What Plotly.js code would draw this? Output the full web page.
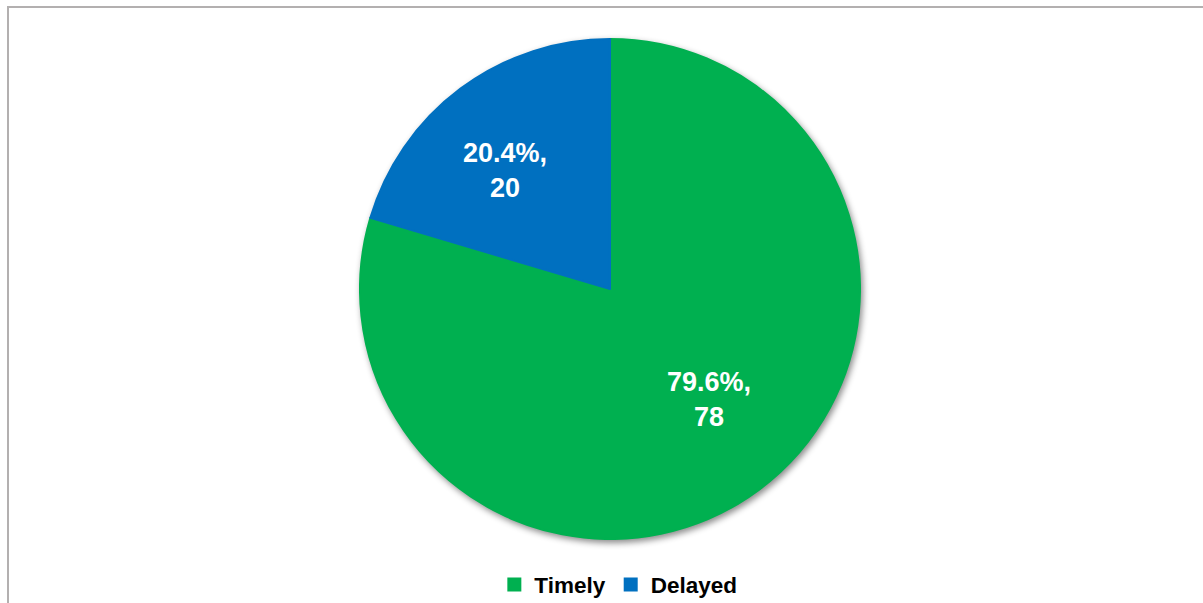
<!DOCTYPE html>
<html>
<head>
<meta charset="utf-8">
<script src="https://cdn.plot.ly/plotly-3.0.1.min.js"></script>
<style>
html,body{margin:0;padding:0;background:#fff;}
#wrap{position:relative;width:1203px;height:603px;overflow:hidden;}
#frame{position:absolute;left:7px;top:6px;width:1300px;height:700px;border-left:2px solid #b3b0b0;border-top:2px solid #b3b0b0;box-sizing:border-box;pointer-events:none;}
#chart{position:absolute;left:0;top:0;width:1203px;height:603px;}
#chart .pielayer .trace{filter:drop-shadow(2px 3px 3px rgba(0,0,0,0.45));}
</style>
</head>
<body>
<div id="wrap">
<div id="chart"></div>
<div id="frame"></div>
</div>
<script>
const categories = ["Timely", "Delayed"];
const counts = [78, 20];
const colors = ["#00B050", "#0070C0"];

const W = 1203, H = 603;
const domainX = [0.29925, 0.71488];
const domainY = [0.10614, 0.93532];

const trace = {
  type: "pie",
  labels: categories,
  values: counts,
  sort: false,
  direction: "clockwise",
  rotation: 0,
  marker: {colors: colors, line: {width: 2, color: colors}},
  textinfo: "none",
  hoverinfo: "label+value+percent",
  domain: {x: domainX, y: domainY}
};

// Data labels placed along each slice's mid-angle (computed from the values)
const total = counts.reduce((a, b) => a + b, 0);
const cxPx = (domainX[0] + domainX[1]) / 2 * W;
const cyPx = (1 - (domainY[0] + domainY[1]) / 2) * H;
const rPx = Math.min((domainX[1] - domainX[0]) * W, (domainY[1] - domainY[0]) * H) / 2;
const labelRadiusFrac = 0.615;
const labelAngleShift = -5;
let cum = 0;
const annotations = counts.map((v, i) => {
  const mid = (cum + v / 2) / total * 360 + labelAngleShift;
  cum += v;
  const a = mid * Math.PI / 180;
  const px = cxPx + Math.sin(a) * rPx * labelRadiusFrac;
  const py = cyPx - Math.cos(a) * rPx * labelRadiusFrac;
  return {
    xref: "paper", yref: "paper",
    x: px / W, y: 1 - py / H,
    xanchor: "center", yanchor: "middle",
    xshift: -3, yshift: 4,
    showarrow: false,
    align: "center",
    text: (v / total * 100).toFixed(1) + "%,<br>" + v,
    font: {family: "Liberation Sans, Arial, sans-serif", size: 27, color: "#ffffff", weight: "bold"}
  };
});

const layout = {
  width: W,
  height: H,
  margin: {l: 0, r: 0, t: 0, b: 0, autoexpand: false},
  paper_bgcolor: "rgba(0,0,0,0)",
  plot_bgcolor: "rgba(0,0,0,0)",
  showlegend: true,
  legend: {
    orientation: "h",
    x: 0.514, xanchor: "center",
    y: 0.030, yanchor: "middle",
    font: {family: "Liberation Sans, Arial, sans-serif", size: 22.5, color: "#000000", weight: "bold"},
    itemclick: false
  },
  annotations: annotations,
  font: {family: "Liberation Sans, Arial, sans-serif"}
};

Plotly.newPlot("chart", [trace], layout, {displayModeBar: false, staticPlot: true});
</script>
</body>
</html>
